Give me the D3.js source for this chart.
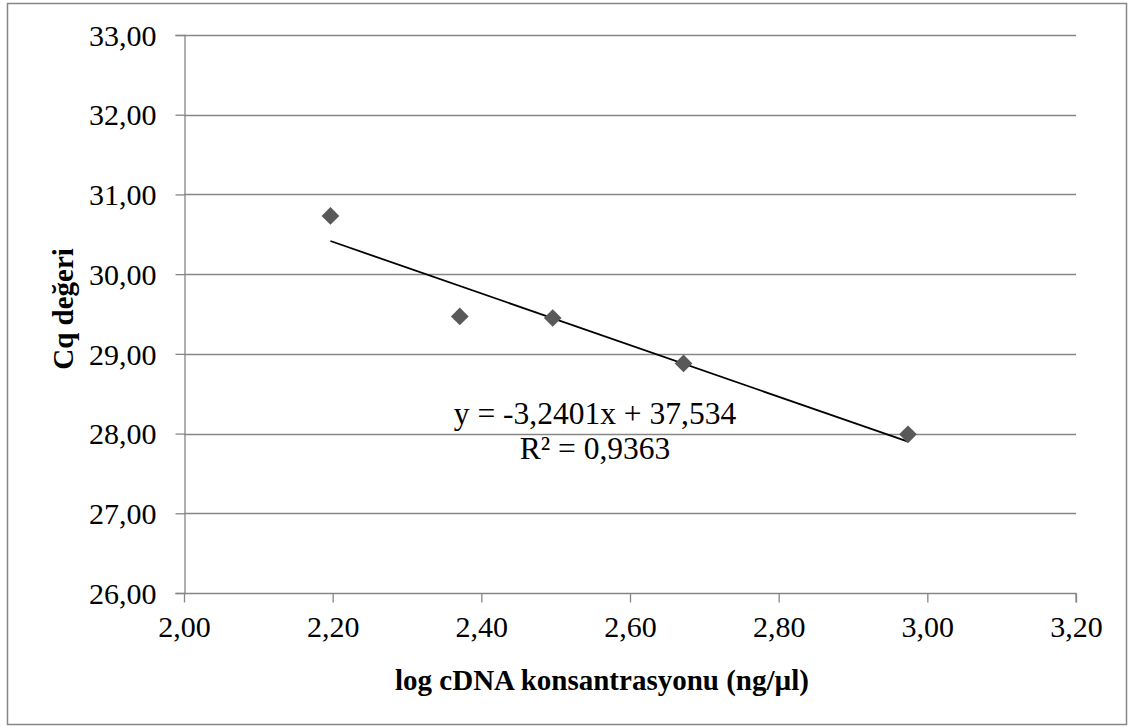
<!DOCTYPE html>
<html>
<head>
<meta charset="utf-8">
<script src="https://cdn.jsdelivr.net/npm/d3@7"></script>
<style>
  body { margin: 0; background: #fff; }
  svg text { font-family: "Liberation Serif", "Times New Roman", "DejaVu Serif", serif; }
</style>
</head>
<body>
<div id="chart"></div>
<script>
// data
var logConc = [2.197, 2.371, 2.496, 2.672, 2.974];
var cqValues = [30.73, 29.47, 29.45, 28.88, 27.99];
var xTicks = [2.00, 2.20, 2.40, 2.60, 2.80, 3.00, 3.20];
var yTicks = [26, 27, 28, 29, 30, 31, 32, 33];
var trendSlope = -3.2401;
var trendIntercept = 37.534;
var eqLines = ["y = -3,2401x + 37,534", "R\u00b2 = 0,9363"];

var width = 1128, height = 727;
var margin = { left: 184, right: 52, top: 35, bottom: 134 };
var serif = "Liberation Serif";

var fmt = function (d) { return d3.format(".2f")(d).replace(".", ","); };

var svg = d3.select("#chart").append("svg")
  .attr("width", width)
  .attr("height", height)
  .attr("font-family", serif);

// outer border
svg.append("rect")
  .attr("x", 7.5).attr("y", 3.5)
  .attr("width", width - 9).attr("height", height - 6)
  .attr("fill", "none")
  .attr("stroke", "#868686")
  .attr("stroke-width", 1.5);

var x = d3.scaleLinear().domain([2.0, 3.2]).range([margin.left, width - margin.right]);
var y = d3.scaleLinear().domain([26, 33]).range([height - margin.bottom, margin.top]);

// gridlines
svg.append("g")
  .selectAll("line")
  .data(yTicks.slice(1))
  .enter().append("line")
  .attr("x1", x(2.0)).attr("x2", x(3.2))
  .attr("y1", function (d) { return Math.round(y(d)) + 0.5; })
  .attr("y2", function (d) { return Math.round(y(d)) + 0.5; })
  .attr("stroke", "#868686")
  .attr("stroke-width", 1.3);

// y axis
var yAxis = svg.append("g")
  .attr("transform", "translate(" + (Math.round(x(2.0)) + 0.5) + ",0)")
  .call(d3.axisLeft(y).tickValues(yTicks).tickFormat(fmt).tickSize(9).tickPadding(19));

// x axis
var xAxis = svg.append("g")
  .attr("transform", "translate(0," + (Math.round(y(26)) + 0.5) + ")")
  .call(d3.axisBottom(x).tickValues(xTicks).tickFormat(fmt).tickSize(9).tickSizeOuter(9).tickPadding(13));

[yAxis, xAxis].forEach(function (a) {
  a.attr("font-family", serif).attr("font-size", 30);
  a.selectAll(".domain").attr("stroke", "#868686").attr("stroke-width", 1.3);
  a.selectAll(".tick line").attr("stroke", "#868686").attr("stroke-width", 1.3);
  a.selectAll(".tick text").attr("fill", "#000");
});
yAxis.selectAll(".tick text").attr("dy", "0.34em");
xAxis.select(".domain").attr("d", "M" + x(2.0) + ",0H" + x(3.2) + "V9");

// trendline from the fitted equation
var xMin = d3.min(logConc), xMax = d3.max(logConc);
svg.append("line")
  .attr("x1", x(xMin)).attr("y1", y(trendSlope * xMin + trendIntercept))
  .attr("x2", x(xMax)).attr("y2", y(trendSlope * xMax + trendIntercept))
  .attr("stroke", "#000")
  .attr("stroke-width", 1.8);

// points
var pts = logConc.map(function (d, i) { return { x: d, y: cqValues[i] }; });
svg.append("g")
  .selectAll("path")
  .data(pts)
  .enter().append("path")
  .attr("d", d3.symbol().type(d3.symbolDiamond2).size(200))
  .attr("transform", function (d) { return "translate(" + x(d.x) + "," + y(d.y) + ")"; })
  .attr("fill", "#595959");

// equation label
svg.append("g")
  .selectAll("text")
  .data(eqLines)
  .enter().append("text")
  .attr("x", 595)
  .attr("y", function (d, i) { return 424 + i * 35; })
  .attr("text-anchor", "middle")
  .attr("font-size", 31.5)
  .text(function (d) { return d; });

// axis titles
svg.append("text")
  .attr("x", 602)
  .attr("y", 690)
  .attr("text-anchor", "middle")
  .attr("font-size", 29)
  .attr("font-weight", "bold")
  .text("log cDNA konsantrasyonu (ng/\u00b5l)");

svg.append("text")
  .attr("transform", "translate(73,309) rotate(-90)")
  .attr("text-anchor", "middle")
  .attr("font-size", 29)
  .attr("font-weight", "bold")
  .text("Cq de\u011feri");
</script>
</body>
</html>
